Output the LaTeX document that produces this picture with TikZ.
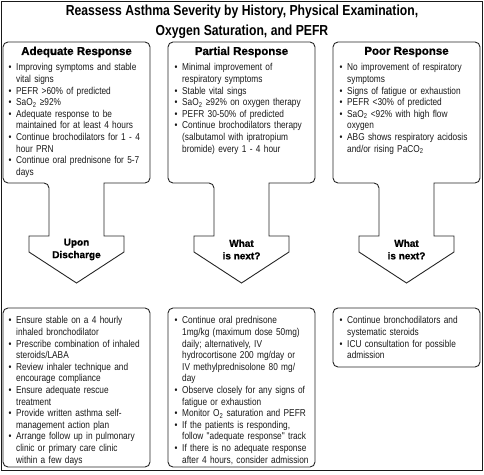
\documentclass[tikz,border=0pt]{standalone}
\usepackage{fontspec}
\usepackage{graphicx}
\setmainfont{Liberation Sans}
\newfontfamily\bodyf{Liberation Sans}[FakeStretch=0.83]
\newfontfamily\titlef{Liberation Sans Bold}[FakeStretch=0.84]
\newfontfamily\headf{Liberation Sans Bold}[FakeBold=1]
\newcommand\bi[1]{\par\noindent\makebox[7.5pt][l]{\textbullet}\parbox[t]{134pt}{\raggedright\strut #1\strut}}
\tikzset{
  shapeline/.style={draw=black!85, line width=0.9pt},
  txt/.style={anchor=north west, inner sep=0pt, text width=#1,
    font={\bodyf\fontsize{10}{11.6}\selectfont\lineskip=0pt\lineskiplimit=0pt}, text=black!90},
  head/.style={inner sep=0pt, font={\headf\fontsize{11.5}{13}\selectfont}},
  arrowlbl/.style={inner sep=0pt, align=center, font={\headf\fontsize{10}{12.5}\selectfont}},
}
\begin{document}
\begin{tikzpicture}[x=1pt,y=-1pt]
\useasboundingbox (0,0) rectangle (484,474);
\draw[line width=1pt, draw=black!90] (1,1) rectangle (482.5,470);

\node[align=center, inner sep=0pt, font={\titlef\fontsize{14.5}{20}\selectfont}] (title) at (242,22)
  {Reassess Asthma Severity by History, Physical Examination,\\Oxygen Saturation, and PEFR};

% top units with arrows
\draw[shapeline] (104,183) [rounded corners=5pt] -- (150,183) -- (150,42) -- (3,42) -- (3,183) -- (49,183)
  [sharp corners] -- (49,236) -- (29,236) -- (29,252) -- (76.5,283) -- (124,252) -- (124,236) -- (104,236) -- cycle;
\draw[shapeline] (269,183) [rounded corners=5pt] -- (315,183) -- (315,42) -- (168,42) -- (168,183) -- (214,183)
  [sharp corners] -- (214,236) -- (194,236) -- (194,252) -- (241.5,283) -- (289,252) -- (289,236) -- (269,236) -- cycle;
\draw[shapeline] (434,183) [rounded corners=5pt] -- (480,183) -- (480,42) -- (333,42) -- (333,183) -- (379,183)
  [sharp corners] -- (379,236) -- (359,236) -- (359,252) -- (406.5,283) -- (454,252) -- (454,236) -- (434,236) -- cycle;

\node[head] (h1) at (76.5,52) {Adequate Response};
\node[head] (h2) at (241.5,52) {Partial Response};
\node[head] (h3) at (406.5,52) {Poor Response};

\node[txt=142pt] (t1) at (8.5,59) {%
\bi{Improving symptoms and stable\\vital signs}
\bi{PEFR >60\% of predicted}
\bi{SaO\textsubscript{2} ≥92\%}
\bi{Adequate response to be\\maintained for at least 4 hours}
\bi{Continue brochodilators for 1 - 4\\hour PRN}
\bi{Continue oral prednisone for 5-7\\days}};

\node[txt=142pt] (t2) at (174.5,59) {%
\bi{Minimal improvement of\\respiratory symptoms}
\bi{Stable vital sings}
\bi{SaO\textsubscript{2} ≥92\% on oxygen therapy}
\bi{PEFR 30-50\% of predicted}
\bi{Continue brochodilators therapy\\(salbutamol with ipratropium\\bromide) every 1 - 4 hour}};

\node[txt=142pt] (t3) at (339.5,59) {%
\bi{No improvement of respiratory\\symptoms}
\bi{Signs of fatigue or exhaustion}
\bi{PEFR <30\% of predicted}
\bi{SaO\textsubscript{2} <92\% with high flow\\oxygen}
\bi{ABG shows respiratory acidosis\\and/or rising PaCO\textsubscript{2}}};

\node[arrowlbl] (a1) at (76.5,249.5) {Upon\\Discharge};
\node[arrowlbl] (a2) at (241.5,249.5) {What\\is next?};
\node[arrowlbl] (a3) at (406.5,249.5) {What\\is next?};

% bottom boxes
\draw[shapeline, rounded corners=5pt] (3,308) rectangle (150,467);
\draw[shapeline, rounded corners=5pt] (168,308) rectangle (315,467);
\draw[shapeline, rounded corners=5pt] (333,308) rectangle (480,367);

\node[txt=142pt] (b1) at (8.5,312) {%
\bi{Ensure stable on a 4 hourly\\inhaled bronchodilator}
\bi{Prescribe combination of inhaled\\steroids/LABA}
\bi{Review inhaler technique and\\encourage compliance}
\bi{Ensure adequate rescue\\treatment}
\bi{Provide written asthma self-\\management action plan}
\bi{Arrange follow up in pulmonary\\clinic or primary care clinic\\within a few days}};

\node[txt=142pt] (b2) at (174.5,312) {%
\bi{Continue oral prednisone\\1mg/kg (maximum dose 50mg)\\daily; alternatively, IV\\hydrocortisone 200 mg/day or\\IV methylprednisolone 80 mg/\\day}
\bi{Observe closely for any signs of\\fatigue or exhaustion}
\bi{Monitor O\textsubscript{2} saturation and PEFR}
\bi{If the patients is responding,\\follow "adequate response" track}
\bi{If there is no adequate response\\after 4 hours, consider admission}};

\node[txt=142pt] (b3) at (339.5,312) {%
\bi{Continue bronchodilators and\\systematic steroids}
\bi{ICU consultation for possible\\admission}};
\end{tikzpicture}
\end{document}
